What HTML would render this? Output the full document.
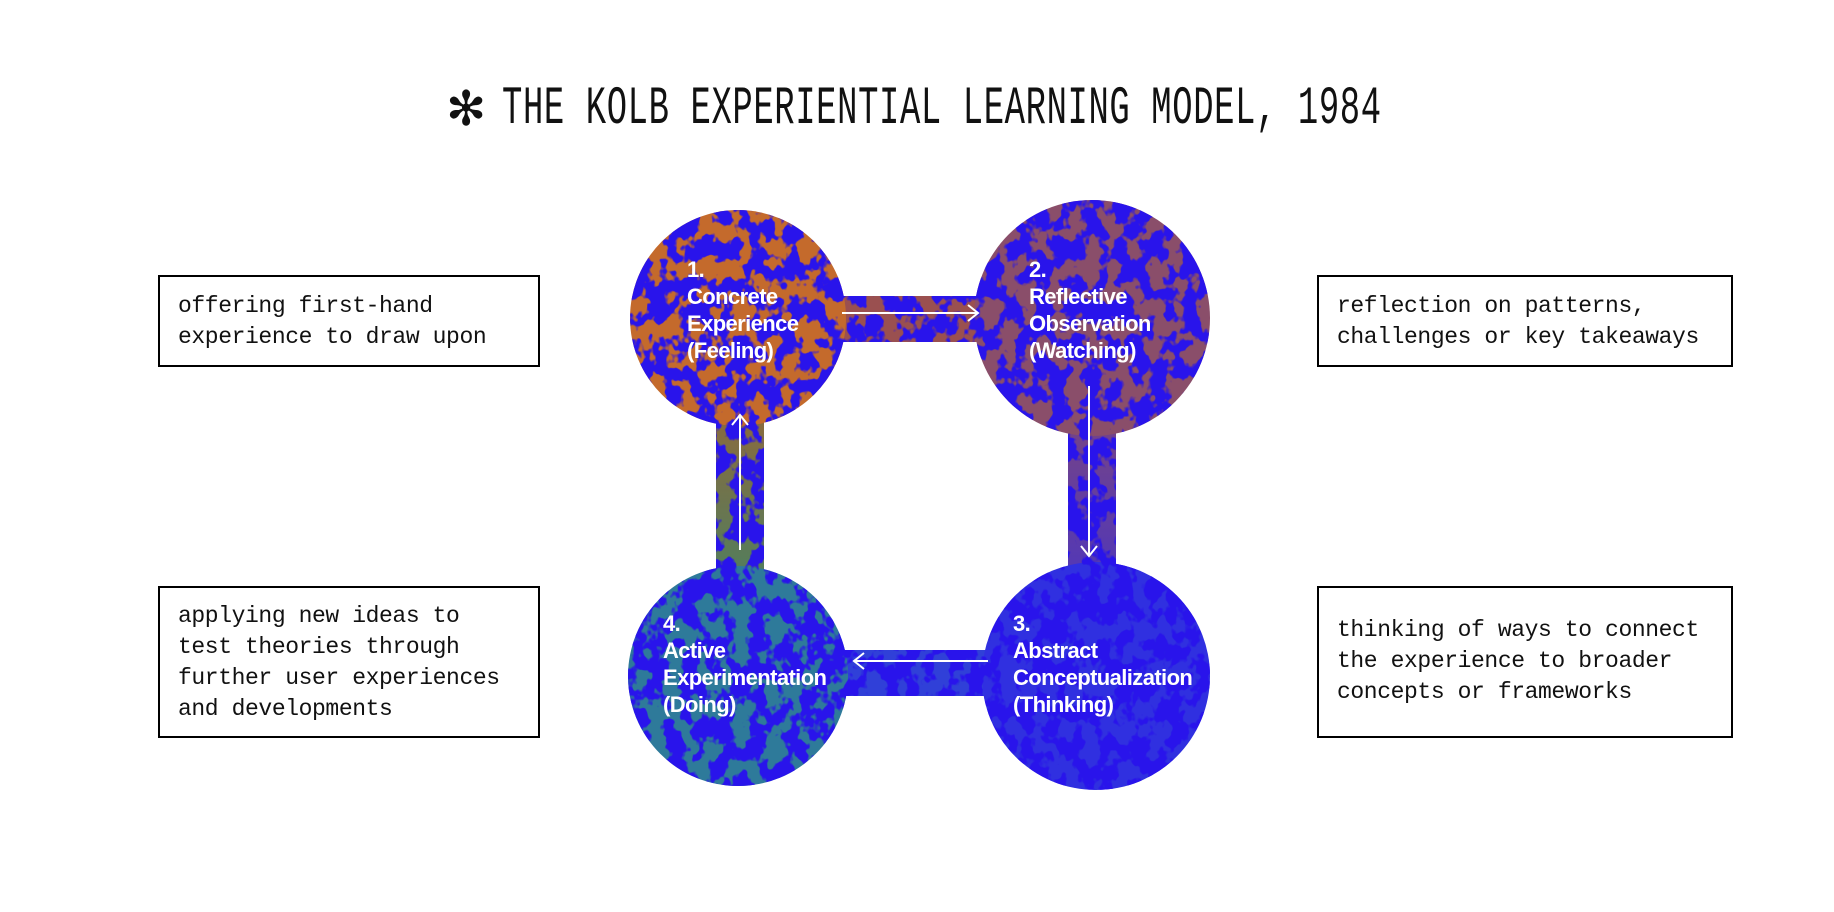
<!DOCTYPE html>
<html><head><meta charset="utf-8"><style>
html,body{margin:0;padding:0;background:#fff;width:1834px;height:912px;overflow:hidden;position:relative}
.box{position:absolute;border:2px solid #000;box-sizing:border-box;font-family:"Liberation Mono",monospace;font-size:23px;line-height:31px;color:#111;padding-left:18px;white-space:pre;letter-spacing:-0.4px}
.title{position:absolute;left:502px;top:80px;font-family:"Liberation Mono",monospace;font-size:54px;line-height:60px;color:#111;transform:scaleX(0.627);transform-origin:0 0;white-space:pre;letter-spacing:1px}
.ast{position:absolute;left:446px;top:84px;font-family:"DejaVu Sans",sans-serif;font-size:48px;line-height:50px;color:#111}
.lbl{position:absolute;font-family:"Liberation Sans",sans-serif;font-weight:bold;color:#fff;font-size:22px;line-height:27px;letter-spacing:-0.6px}
</style></head><body>
<div class="ast">✻</div>
<div class="title">THE KOLB EXPERIENTIAL LEARNING MODEL, 1984</div>

<svg width="1834" height="912" style="position:absolute;left:0;top:0">
<defs>
<filter id="tex" x="-20%" y="-20%" width="140%" height="140%" color-interpolation-filters="sRGB">
<feTurbulence type="fractalNoise" baseFrequency="0.06 0.05" numOctaves="3" seed="3" result="n"/>
<feColorMatrix in="n" type="matrix" values="0 0 0 0 0.16  0 0 0 0 0.08  0 0 0 0 0.92  0 0 0 14 -6.3" result="blue"/>
<feComposite in="blue" in2="SourceGraphic" operator="in" result="b2"/>
<feMerge><feMergeNode in="SourceGraphic"/><feMergeNode in="b2"/></feMerge>
</filter>
<linearGradient id="lg" x1="0" y1="0" x2="0" y2="1"><stop offset="0" stop-color="#a8602e"/><stop offset="1" stop-color="#2e8a70"/></linearGradient>
<linearGradient id="rg" x1="0" y1="0" x2="0" y2="1"><stop offset="0" stop-color="#8a4a6a"/><stop offset="1" stop-color="#3a30d8"/></linearGradient>
</defs>
<g filter="url(#tex)">
<rect x="720" y="296" width="380" height="46" fill="#9a5050"/>
<rect x="716" y="330" width="48" height="350" fill="url(#lg)"/>
<rect x="1068" y="330" width="48" height="350" fill="url(#rg)"/>
<rect x="730" y="650" width="360" height="46" fill="#3040d8"/>
<circle cx="738" cy="318" r="108" fill="#c46a2c"/>
<circle cx="1092" cy="318" r="118" fill="#8a4e6a"/>
<circle cx="1096" cy="676" r="114" fill="#3030e0"/>
<circle cx="738" cy="676" r="110" fill="#2e7a9a"/>
</g>
<g stroke="#fff" stroke-width="2" fill="none">
<line x1="842" y1="313" x2="978" y2="313"/><polyline points="968,305 978,313 968,321"/>
<line x1="1089" y1="386" x2="1089" y2="556"/><polyline points="1081,546 1089,556 1097,546"/>
<line x1="988" y1="661" x2="854" y2="661"/><polyline points="864,653 854,661 864,669"/>
<line x1="740" y1="550" x2="740" y2="415"/><polyline points="732,425 740,415 748,425"/>
</g>
</svg>

<div class="lbl" style="left:687px;top:256px">1.<br>Concrete<br>Experience<br>(Feeling)</div>
<div class="lbl" style="left:1029px;top:256px">2.<br>Reflective<br>Observation<br>(Watching)</div>
<div class="lbl" style="left:1013px;top:610px">3.<br>Abstract<br>Conceptualization<br>(Thinking)</div>
<div class="lbl" style="left:663px;top:610px">4.<br>Active<br>Experimentation<br>(Doing)</div>

<div class="box" style="left:158px;top:275px;width:382px;height:92px;padding-top:14px">offering first-hand
experience to draw upon</div>
<div class="box" style="left:158px;top:586px;width:382px;height:152px;padding-top:13px">applying new ideas to
test theories through
further user experiences
and developments</div>
<div class="box" style="left:1317px;top:275px;width:416px;height:92px;padding-top:14px">reflection on patterns,
challenges or key takeaways</div>
<div class="box" style="left:1317px;top:586px;width:416px;height:152px;padding-top:27px">thinking of ways to connect
the experience to broader
concepts or frameworks</div>
</body></html>
